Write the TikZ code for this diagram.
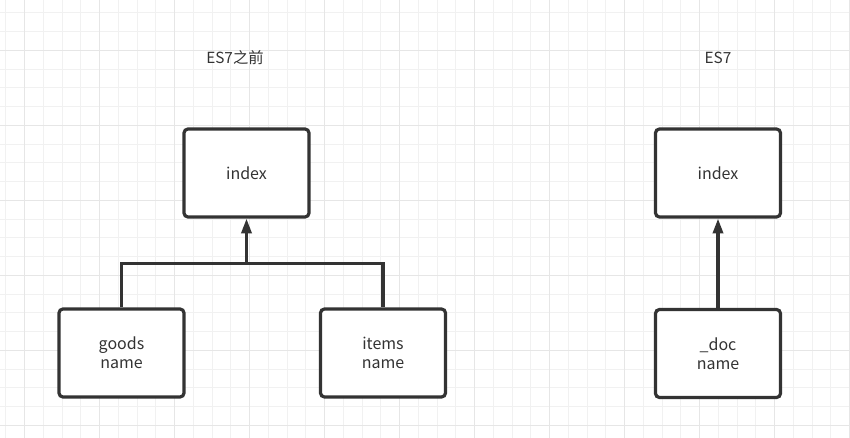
\documentclass[tikz,border=0pt]{standalone}
\usepackage{fontspec}
\setmainfont{Noto Sans CJK SC}
\usetikzlibrary{arrows.meta}
\definecolor{ink}{HTML}{333333}
\definecolor{gridfine}{HTML}{F1F1F1}
\definecolor{gridbold}{HTML}{E6E6E6}
\tikzset{
  px/.style={x=0.75pt,y=-0.75pt},
  entity/.style={draw=ink, line width=2.4pt, rounded corners=3pt, fill=white,
    minimum width=125*0.75pt, minimum height=88*0.75pt, inner sep=0pt,
    align=center, text=ink, font=\fontsize{12}{14.5}\selectfont},
  title/.style={text=ink, font=\fontsize{11.5}{14}\selectfont, inner sep=0pt},
  conn/.style={draw=ink, line width=2.4pt},
  arr/.style={conn, -{Triangle[length=11pt,width=7.5pt]}}
}
\begin{document}
\begin{tikzpicture}[px]
\useasboundingbox (0,0) rectangle (850,438);
\fill[white] (0,0) rectangle (850,438);
% grid
\foreach \i in {0,...,45} {
  \draw[gridfine, line width=0.75pt] ({5.75+\i*18.75},0) -- ({5.75+\i*18.75},438);
}
\foreach \i in {0,...,23} {
  \draw[gridfine, line width=0.75pt] (0,{13+\i*18.75}) -- (850,{13+\i*18.75});
}
\foreach \i in {0,...,11} {
  \draw[gridbold, line width=0.75pt] ({24.5+\i*75},0) -- ({24.5+\i*75},438);
}
\foreach \i in {0,...,5} {
  \draw[gridbold, line width=0.75pt] (0,{50.5+\i*75}) -- (850,{50.5+\i*75});
}
% titles
\node[title] (t1) at (235,57.5) {ES7之前};
\node[title] (t2) at (718,57.5) {ES7};
% left group
\node[entity] (idx1) at (246.5,173) {index};
\node[entity] (goods) at (121.5,353) {goods\\name};
\node[entity] (items) at (383,353) {items\\name};
\coordinate (j) at (246.5,263.5);
\draw[conn] (goods.north) |- (items.north |- j) -- (items.north);
\draw[arr] (j) -- (idx1.south);
% right group
\node[entity] (idx2) at (718,173) {index};
\node[entity] (doc) at (718,353.5) {\_doc\\name};
\draw[arr] (doc.north) -- (idx2.south);
\end{tikzpicture}
\end{document}
